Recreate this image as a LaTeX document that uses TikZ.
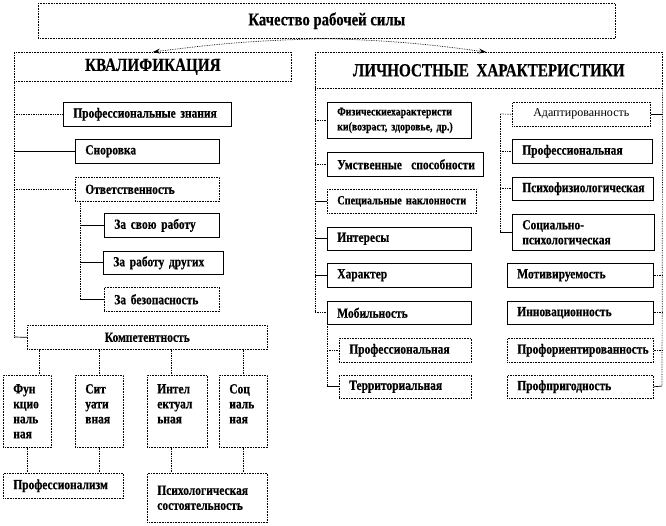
\documentclass[tikz,border=0pt]{standalone}
\usepackage{fontspec}
\setmainfont{Liberation Serif}
\newfontfamily\cnd[FakeStretch=0.82,BoldFeatures={FakeStretch=0.82,FakeBold=0.4}]{Liberation Serif}
\usetikzlibrary{arrows.meta}
\newcommand\lbox[7][]{%
  \pgfmathsetmacro\bw{#5-#3}\pgfmathsetmacro\bh{#6-#4}\pgfmathsetmacro\tw{#5-#3-20}%
  \node[bx,#1,anchor=north west,minimum width=\bw pt,minimum height=\bh pt,text width=\tw pt,align=left] (#2) at (#3,#4) {#7};}
\newcommand\cbox[7][]{%
  \pgfmathsetmacro\bw{#5-#3}\pgfmathsetmacro\bh{#6-#4}%
  \node[bx,#1,anchor=north west,minimum width=\bw pt,minimum height=\bh pt,align=center] (#2) at (#3,#4) {#7};}
\tikzset{
  bx/.style={draw=black,line width=0.6pt,inner sep=0pt,font=\cnd\fontsize{14}{15}\selectfont\bfseries},
  dbx/.style={densely dotted},
  big/.style={font=\cnd\fontsize{18.5}{20}\selectfont\bfseries},
  conn/.style={densely dotted,line width=0.7pt},
  csol/.style={line width=0.7pt},
  arr/.style={densely dotted,line width=0.7pt,-{Stealth[length=7pt,width=5pt]}}
}
\begin{document}
\begin{tikzpicture}[x=1pt,y=-1pt]
\useasboundingbox (0,0) rectangle (666,525);
% titles
\cbox[dbx,font=\cnd\fontsize{18}{20}\selectfont\bfseries]{kach}{38}{3}{615}{38}{Качество рабочей силы}
\cbox[dbx,big]{kval}{14}{52}{291}{81}{КВАЛИФИКАЦИЯ}
\cbox[dbx,big]{lich}{315}{52}{662}{88}{ЛИЧНОСТНЫЕ\ \ ХАРАКТЕРИСТИКИ}
% left column
\lbox{pz}{63}{102}{231}{126}{Профессиональные~знания}
\lbox{snor}{75}{139}{219}{163}{Сноровка}
\lbox[dbx]{otv}{75}{177}{219}{201}{Ответственность}
\lbox{zsr}{104}{213}{219}{237}{За~свою~работу}
\lbox{zrd}{103}{251}{223}{274}{За~работу~других}
\lbox[dbx]{zb}{104}{287}{219}{311}{За~безопасность}
\cbox[dbx]{komp}{27}{325}{267}{349}{Компетентность}
\lbox[dbx]{fun}{3}{375}{51}{447}{Фун\\кцио\\наль\\ная}
\lbox[dbx]{sit}{75}{375}{123}{447}{Сит\\уати\\вная\\~}
\lbox[dbx]{int}{147}{375}{207}{447}{Интел\\ектуал\\ьная\\~}
\lbox[dbx]{soc}{219}{375}{267}{447}{Соц\\иаль\\ная\\~}
\lbox[dbx]{prof}{3}{473}{123}{498}{Профессионализм}
\lbox[dbx]{psy}{147}{473}{267}{522}{Психологическая\\состоятельность}
% right-left column
\lbox[font=\cnd\fontsize{12}{15}\selectfont\bfseries]{fiz}{327}{102}{471}{138}{Физическиехарактеристи\\ки(возраст, здоровье, др.)}
\lbox{umst}{327}{152}{483}{176}{Умственные~~способности}
\lbox[dbx,font=\cnd\fontsize{12.5}{15}\selectfont\bfseries]{spec}{327}{189}{476}{213}{Специальные~наклонности}
\lbox{inter}{327}{227}{471}{250}{Интересы}
\lbox{har}{327}{263}{471}{287}{Характер}
\lbox{mob}{327}{301}{471}{324}{Мобильность}
\lbox[dbx]{mprof}{339}{338}{471}{362}{Профессиональная}
\lbox[dbx]{mterr}{339}{375}{471}{398}{Территориальная}
% right-right column
\cbox[dbx,font=\fontsize{12}{14}\selectfont]{adapt}{512}{102}{650}{126}{Адаптированность}
\lbox{aprof}{512}{139}{652}{163}{Профессиональная}
\lbox{apsy}{512}{177}{653}{200}{Психофизиологическая}
\lbox{asoc}{512}{214}{654}{250}{Социально-\\психологическая}
\lbox{motiv}{507}{263}{653}{287}{Мотивируемость}
\lbox{innov}{507}{301}{653}{324}{Инновационность}
\lbox[dbx]{profor}{507}{338}{653}{362}{Профориентированность}
\lbox[dbx]{profpr}{507}{375}{653}{398}{Профпригодность}
% arrows
\coordinate (kt) at (153,52);
\coordinate (lt) at (486,52);
\draw[arr] (kach.south) to[bend right=3] (kt);
\draw[arr] (kach.south) to[bend left=3] (lt);
% left trunk
\coordinate (lb) at (14,337);
\draw[conn] (kval.south west) -- (lb);
\draw[conn] (kval.south west |- pz.west) -- (pz.west);
\draw[csol] (kval.south west |- snor.west) -- (snor.west);
\draw[conn] (kval.south west |- otv.west) -- (otv.west);
\draw[csol] (lb) -- (komp.west);
% otv subtrunk
\coordinate (ot) at (80,201);
\draw[conn] (ot) -- (ot |- zb.west);
\draw[csol] (ot |- zsr.west) -- (zsr.west);
\draw[csol] (ot |- zrd.west) -- (zrd.west);
\draw[csol] (ot |- zb.west) -- (zb.west);
% komp children
\coordinate (k1) at (39,375);
\coordinate (k2) at (99,375);
\coordinate (k3) at (171,375);
\coordinate (k4) at (243,375);
\foreach \k in {k1,k2,k3,k4} \draw[conn] (komp.south -| \k) -- (\k);
\coordinate (p1) at (27,473);
\coordinate (p2) at (99,473);
\coordinate (q1) at (171,473);
\coordinate (q2) at (243,473);
\draw[conn] (fun.south -| p1) -- (p1);
\draw[conn] (sit.south -| p2) -- (p2);
\draw[conn] (int.south -| q1) -- (q1);
\draw[conn] (soc.south -| q2) -- (q2);
% right-left trunk
\draw[conn] (lich.south west) -- (lich.south west |- mob.west);
\draw[conn] (lich.south west |- fiz.west) -- (fiz.west);
\draw[conn] (lich.south west |- umst.west) -- (umst.west);
\draw[csol] (lich.south west |- spec.west) -- (spec.west);
\draw[csol] (lich.south west |- inter.west) -- (inter.west);
\draw[csol] (lich.south west |- har.west) -- (har.west);
\draw[conn] (lich.south west |- mob.west) -- (mob.west);
% mob subtrunk
\coordinate (mt) at (327,324);
\draw[conn] (mt) -- (mt |- mterr.west);
\draw[conn] (mt |- mprof.west) -- (mprof.west);
\draw[csol] (mt |- mterr.west) -- (mterr.west);
% adapt subtrunk
\coordinate (at) at (500,114);
\draw[conn] (at) -- (at |- asoc.west);
\draw[conn] (at) -- (adapt.west);
\draw[conn] (at |- aprof.west) -- (aprof.west);
\draw[conn] (at |- apsy.west) -- (apsy.west);
\draw[csol] (at |- asoc.west) -- (asoc.west);
% right trunk
\coordinate (rb) at (662,386);
\draw[conn] (lich.south east) -- (rb);
\draw[csol] (adapt.east) -- (lich.south east |- adapt.east);
\draw[conn] (motiv.east) -- (lich.south east |- motiv.east);
\draw[conn] (innov.east) -- (lich.south east |- innov.east);
\draw[conn] (profor.east) -- (lich.south east |- profor.east);
\draw[csol] (profpr.east) -- (rb);
\end{tikzpicture}
\end{document}
